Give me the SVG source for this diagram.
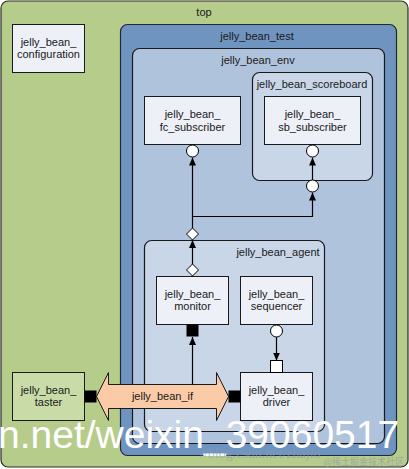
<svg xmlns="http://www.w3.org/2000/svg" width="409" height="469" viewBox="0 0 409 469">
<defs>
<style>
.lbl{font-family:"Liberation Sans",Arial,sans-serif;font-size:11px;fill:#1a1a1a;text-anchor:middle}
.box{fill:#eef0f7;stroke:#1a1a1a;stroke-width:1}
.wire{fill:none;stroke:#000;stroke-width:1.2}
.port{fill:#fff;stroke:#000;stroke-width:1}
</style>
<marker id="ah" viewBox="0 0 8 8" refX="8" refY="4" markerWidth="8" markerHeight="8" orient="auto" markerUnits="userSpaceOnUse">
<path d="M0,0.5 L8,4 L0,7.5 Z" fill="#000"/>
</marker>
</defs>
<rect width="409" height="469" fill="#fff"/>
<g id="top">
<rect x="1" y="1" width="407" height="466" rx="7" fill="#b6cc8a" stroke="#2a2a2a" stroke-width="1.2"/>
<text class="lbl" x="204" y="16">top</text>
</g>
<g id="jelly_bean_configuration">
<rect class="box" x="12.5" y="24.5" width="72" height="48"/>
<text class="lbl" x="48.5" y="46">jelly_bean_</text>
<text class="lbl" x="48.5" y="58">configuration</text>
</g>
<g id="jelly_bean_test">
<rect x="120.5" y="24.5" width="276" height="431" rx="7" fill="#6f94c0" stroke="#1e2a3a" stroke-width="1.2"/>
<text class="lbl" x="257" y="40">jelly_bean_test</text>
</g>
<g id="jelly_bean_env">
<rect x="132.5" y="48.5" width="252" height="395" rx="7" fill="#b0c3dc" stroke="#1a1a1a" stroke-width="1.2"/>
<text class="lbl" x="258" y="64">jelly_bean_env</text>
</g>
<g id="jelly_bean_scoreboard">
<rect x="252.5" y="72.5" width="120" height="108" rx="7" fill="#c9d6e8" stroke="#1a1a1a" stroke-width="1.2"/>
<text class="lbl" x="312" y="88">jelly_bean_scoreboard</text>
</g>
<g id="jelly_bean_fc_subscriber">
<rect class="box" x="144.5" y="96.5" width="96" height="48"/>
<text class="lbl" x="192.5" y="118">jelly_bean_</text>
<text class="lbl" x="192.5" y="131">fc_subscriber</text>
</g>
<g id="jelly_bean_sb_subscriber">
<rect class="box" x="264.5" y="96.5" width="96" height="48"/>
<text class="lbl" x="312.5" y="118">jelly_bean_</text>
<text class="lbl" x="312.5" y="131">sb_subscriber</text>
</g>
<g id="jelly_bean_agent">
<rect x="144.5" y="240.5" width="180" height="191" rx="7" fill="#c9d6e8" stroke="#1a1a1a" stroke-width="1.2"/>
<text class="lbl" x="278" y="256">jelly_bean_agent</text>
</g>
<g id="jelly_bean_monitor">
<rect class="box" x="156.5" y="276.5" width="72" height="48"/>
<text class="lbl" x="192.5" y="298">jelly_bean_</text>
<text class="lbl" x="192.5" y="310">monitor</text>
</g>
<g id="jelly_bean_sequencer">
<rect class="box" x="240.5" y="276.5" width="72" height="48"/>
<text class="lbl" x="276.5" y="298">jelly_bean_</text>
<text class="lbl" x="276.5" y="310">sequencer</text>
</g>
<g id="jelly_bean_driver">
<rect class="box" x="240.5" y="372.5" width="72" height="48"/>
<text class="lbl" x="276.5" y="394">jelly_bean_</text>
<text class="lbl" x="276.5" y="406">driver</text>
</g>
<g id="jelly_bean_taster">
<rect x="12.5" y="372.5" width="72" height="48" fill="#c9dca8" stroke="#1a1a1a" stroke-width="1"/>
<text class="lbl" x="48.5" y="394">jelly_bean_</text>
<text class="lbl" x="48.5" y="406">taster</text>
</g>
<g id="jelly_bean_if">
<path d="M96.5,396.5 L108.5,372.5 L108.5,384.5 L216.5,384.5 L216.5,372.5 L228.5,396.5 L216.5,420.5 L216.5,408.5 L108.5,408.5 L108.5,420.5 Z" fill="#fbcaa6" stroke="#1a1a1a" stroke-width="1"/>
<text class="lbl" x="162.5" y="400">jelly_bean_if</text>
</g>
<g id="connectors">
<line class="wire" x1="192.5" y1="228" x2="192.5" y2="157.5" marker-end="url(#ah)"/>
<polyline class="wire" points="192.5,216.5 312.5,216.5 312.5,192.5" marker-end="url(#ah)"/>
<line class="wire" x1="312.5" y1="180" x2="312.5" y2="157.5" marker-end="url(#ah)"/>
<line class="wire" x1="192.5" y1="264" x2="192.5" y2="240" marker-end="url(#ah)"/>
<line class="wire" x1="192.5" y1="384.5" x2="192.5" y2="337" marker-end="url(#ah)"/>
<line class="wire" x1="276.5" y1="337" x2="276.5" y2="360.5" marker-end="url(#ah)"/>
<circle class="port" cx="192.5" cy="151" r="6"/>
<circle class="port" cx="312.5" cy="151" r="6"/>
<circle class="port" cx="312.5" cy="186" r="6"/>
<circle class="port" cx="276.5" cy="331" r="6"/>
<path class="port" d="M192.5,228 L198.5,234 L192.5,240 L186.5,234 Z"/>
<path class="port" d="M192.5,264 L198.5,270 L192.5,276 L186.5,270 Z"/>
<rect x="186.5" y="324.5" width="12" height="12" fill="#000"/>
<rect class="port" x="270.5" y="360.5" width="12" height="12"/>
<rect x="84.5" y="390.5" width="12" height="12" fill="#000"/>
<rect x="228.5" y="390.5" width="12" height="12" fill="#000"/>
</g>
<text x="-2" y="448" font-family="Liberation Sans,Arial,sans-serif" font-size="39" fill="#fff">n.net/weixin_39060517</text>
<text x="200" y="458" font-family="Liberation Serif,serif" font-size="14" fill="#8a9ab0" opacity="0.6">//blog.csdn.net/zhajio</text>
<text x="404" y="465" font-family="Noto Sans CJK SC,sans-serif" font-size="9" fill="#9aa0a8" text-anchor="end" opacity="0.8">@稀土掘金技术社区</text>
</svg>
